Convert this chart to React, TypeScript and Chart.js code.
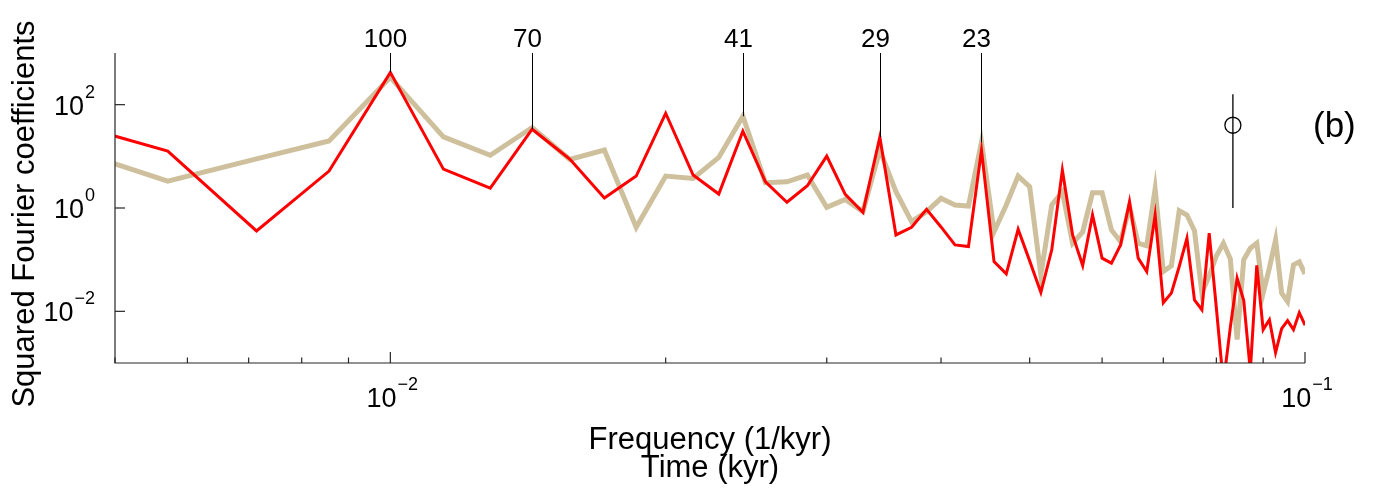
import React, { useEffect, useRef } from 'react';
import { Chart, registerables } from 'chart.js';

Chart.register(...registerables);

// Frequencies (1/kyr) of the spectral estimates
const frequencies = [
  0.00429, 0.00571, 0.00714, 0.00857, 0.01, 0.01143, 0.01286, 0.01429, 0.01571, 0.01714,
  0.01857, 0.02, 0.02143, 0.02286, 0.02429, 0.02571, 0.02714, 0.02857, 0.03, 0.03143,
  0.03286, 0.03429, 0.03571, 0.03714, 0.03857, 0.04, 0.04143, 0.04286, 0.04429, 0.04571,
  0.04714, 0.04857, 0.05, 0.05143, 0.05286, 0.05429, 0.05571, 0.05714, 0.05857, 0.06,
  0.06143, 0.06286, 0.06429, 0.06571, 0.06714, 0.06857, 0.07, 0.07143, 0.07286, 0.07429,
  0.07571, 0.07714, 0.07857, 0.08, 0.08143, 0.08286, 0.08429, 0.08571, 0.08714, 0.08857,
  0.09, 0.09143, 0.09286, 0.09429, 0.09571, 0.09714, 0.09857, 0.1,
];

// Squared Fourier coefficients, red series
const redPower = [
  53.5, 12.6, 0.36, 5.18, 422, 5.66, 2.43, 33.5, 8.83, 1.56,
  4.15, 68.2, 4.34, 1.86, 30.6, 3.22, 1.29, 2.7, 10.1, 1.84,
  0.826, 23.5, 0.301, 0.424, 0.944, 0.43, 0.193, 0.179, 13.2, 0.0918,
  0.0532, 0.388, 0.0948, 0.0232, 0.155, 5.42, 0.301, 0.0769, 0.733, 0.107,
  0.0855, 0.193, 1.32, 0.107, 0.0589, 0.733, 0.0147, 0.0225, 0.0736, 0.26,
  0.0167, 0.0107, 0.325, 0.0116, 0.0004, 0.00489, 0.044, 0.0161, 0.0007, 0.0776,
  0.00442, 0.00689, 0.00159, 0.00461, 0.00659, 0.00442, 0.0094, 0.0054,
];

// Squared Fourier coefficients, tan series
const tanPower = [
  17.2, 3.32, 8.91, 19.9, 338, 23.8, 10.5, 36.1, 8.71, 13.2,
  0.424, 4.15, 3.74, 9.53, 59.7, 3.08, 3.22, 4.34, 1.03, 1.47,
  0.849, 13.2, 2.07, 0.545, 0.849, 1.54, 1.14, 1.09, 18.8, 0.348,
  1.14, 4.15, 2.58, 0.0509, 1.14, 2.07, 0.208, 0.344, 1.97, 1.97,
  0.376, 0.223, 1.06, 0.208, 0.185, 2.33, 0.0589, 0.0759, 0.887, 0.733,
  0.363, 0.0229, 0.0486, 0.118, 0.208, 0.104, 0.00283, 0.0991, 0.167, 0.208,
  0.0225, 0.0695, 0.241, 0.0225, 0.0155, 0.0794, 0.0908, 0.0532,
];

// Period markers (kyr)
const periodLabels = ['100', '70', '41', '29', '23'];
const periodFreqs = [0.01, 0.01429, 0.02429, 0.03429, 0.04429];
const periodLineEnds = [422, 33.5, 59.7, 23.5, 18.8];

// Axis ticks
const xTicks = [0.005, 0.006, 0.007, 0.008, 0.009, 0.01, 0.02, 0.03, 0.04, 0.05, 0.06, 0.07, 0.08, 0.09, 0.1];
const xMajorTicks = [0.01, 0.1];
const xMajorExponents = ['\u22122', '\u22121'];
const yMajorTicks = [0.01, 1, 100];
const yMajorExponents = ['\u22122', '0', '2'];

// Confidence bar
const errFreq = [0.0834];
const errCenter = [40];
const errLow = [1];
const errHigh = [159];

const FONT = '"Liberation Sans", Arial, Helvetica, sans-serif';
const AXIS_COLOR = '#262626';

function drawPow(ctx: CanvasRenderingContext2D, exp: string, x: number, baseline: number, align: 'center' | 'right') {
  ctx.font = `27px ${FONT}`;
  const w1 = ctx.measureText('10').width;
  ctx.font = `18px ${FONT}`;
  const w2 = ctx.measureText(exp).width;
  const total = w1 + 1 + w2;
  const start = align === 'center' ? x - total / 2 : x - total;
  ctx.textAlign = 'left';
  ctx.textBaseline = 'alphabetic';
  ctx.font = `27px ${FONT}`;
  ctx.fillText('10', start, baseline);
  ctx.font = `18px ${FONT}`;
  ctx.fillText(exp, start + w1 + 1, baseline - 17);
}

const overlayPlugin = {
  id: 'overlay',
  afterDraw(chart: any) {
    const ctx: CanvasRenderingContext2D = chart.ctx;
    const { left, right, top, bottom } = chart.chartArea;
    const xs = chart.scales.x;
    const ys = chart.scales.y;
    ctx.save();

    // axes
    ctx.strokeStyle = AXIS_COLOR;
    ctx.lineWidth = 1.2;
    ctx.beginPath();
    ctx.moveTo(left, top);
    ctx.lineTo(left, bottom);
    ctx.lineTo(right, bottom);
    ctx.stroke();

    // x ticks (inward)
    xTicks.forEach((v) => {
      const px = xs.getPixelForValue(v);
      const len = xMajorTicks.includes(v) ? 11 : 5.5;
      ctx.beginPath();
      ctx.moveTo(px, bottom);
      ctx.lineTo(px, bottom - len);
      ctx.stroke();
    });
    // y ticks (inward)
    yMajorTicks.forEach((v) => {
      const py = ys.getPixelForValue(v);
      ctx.beginPath();
      ctx.moveTo(left, py);
      ctx.lineTo(left + 10, py);
      ctx.stroke();
    });

    ctx.fillStyle = '#000';
    // tick labels
    xMajorTicks.forEach((v, i) => {
      drawPow(ctx, xMajorExponents[i], xs.getPixelForValue(v) + 2, bottom + 44, 'center');
    });
    yMajorTicks.forEach((v, i) => {
      drawPow(ctx, yMajorExponents[i], left - 20, ys.getPixelForValue(v) + 10, 'right');
    });

    // axis titles
    ctx.font = `31px ${FONT}`;
    ctx.textAlign = 'center';
    ctx.textBaseline = 'alphabetic';
    const cx = (left + right) / 2;
    ctx.fillText('Frequency (1/kyr)', cx, 449);
    ctx.fillText('Time (kyr)', cx, 477);
    ctx.save();
    ctx.translate(34, (top + bottom) / 2 + 6);
    ctx.rotate(-Math.PI / 2);
    ctx.fillText('Squared Fourier coefficients', 0, 0);
    ctx.restore();

    // period markers
    ctx.strokeStyle = '#000';
    ctx.lineWidth = 1;
    ctx.font = `26px ${FONT}`;
    periodFreqs.forEach((f, i) => {
      const px = Math.round(xs.getPixelForValue(f)) + 0.5;
      ctx.beginPath();
      ctx.moveTo(px, top);
      ctx.lineTo(px, ys.getPixelForValue(periodLineEnds[i]));
      ctx.stroke();
      ctx.textAlign = 'center';
      ctx.fillText(periodLabels[i], px - 5, 47);
    });

    // confidence bar
    ctx.lineWidth = 1.3;
    errFreq.forEach((f, i) => {
      const px = xs.getPixelForValue(f);
      const pc = ys.getPixelForValue(errCenter[i]);
      ctx.beginPath();
      ctx.moveTo(px, ys.getPixelForValue(errHigh[i]));
      ctx.lineTo(px, ys.getPixelForValue(errLow[i]));
      ctx.stroke();
      ctx.beginPath();
      ctx.arc(px, pc, 8, 0, Math.PI * 2);
      ctx.stroke();
    });

    // panel label
    ctx.font = `35px ${FONT}`;
    ctx.textAlign = 'left';
    ctx.fillText('(b)', 1313, 137);

    ctx.restore();
  },
};

export default function App() {
  const canvasRef = useRef<HTMLCanvasElement | null>(null);

  useEffect(() => {
    if (!canvasRef.current) return;
    const chart = new Chart(canvasRef.current, {
      type: 'line',
      data: {
        datasets: [
          {
            label: 'red',
            data: frequencies.map((f, i) => ({ x: f, y: redPower[i] })),
            borderColor: '#ff0000',
            borderWidth: 3,
            pointRadius: 0,
            tension: 0,
            fill: false,
            borderJoinStyle: 'miter',
            clip: 0,
            order: 0,
          },
          {
            label: 'tan',
            data: frequencies.map((f, i) => ({ x: f, y: tanPower[i] })),
            borderColor: 'rgb(206,192,156)',
            borderWidth: 5,
            pointRadius: 0,
            tension: 0,
            fill: false,
            borderJoinStyle: 'miter',
            clip: 0,
            order: 1,
          },
        ],
      },
      options: {
        animation: false,
        responsive: false,
        events: [],
        layout: { padding: { top: 53, right: 71, left: 0, bottom: 0 } },
        plugins: { legend: { display: false }, tooltip: { enabled: false } },
        scales: {
          x: {
            type: 'logarithmic',
            min: 0.005,
            max: 0.1,
            grid: { display: false },
            border: { display: false },
            ticks: { display: false },
            afterFit: (s: any) => { s.height = 136; },
          },
          y: {
            type: 'logarithmic',
            min: 0.001,
            max: 1000,
            grid: { display: false },
            border: { display: false },
            ticks: { display: false },
            afterFit: (s: any) => { s.width = 115; },
          },
        },
      },
      plugins: [overlayPlugin],
    } as any);
    return () => chart.destroy();
  }, []);

  return (
    <div style={{ position: 'absolute', left: 0, top: 0, width: 1376, height: 499, background: '#fff' }}>
      <canvas ref={canvasRef} width={1376} height={499} style={{ display: 'block' }} />
    </div>
  );
}
